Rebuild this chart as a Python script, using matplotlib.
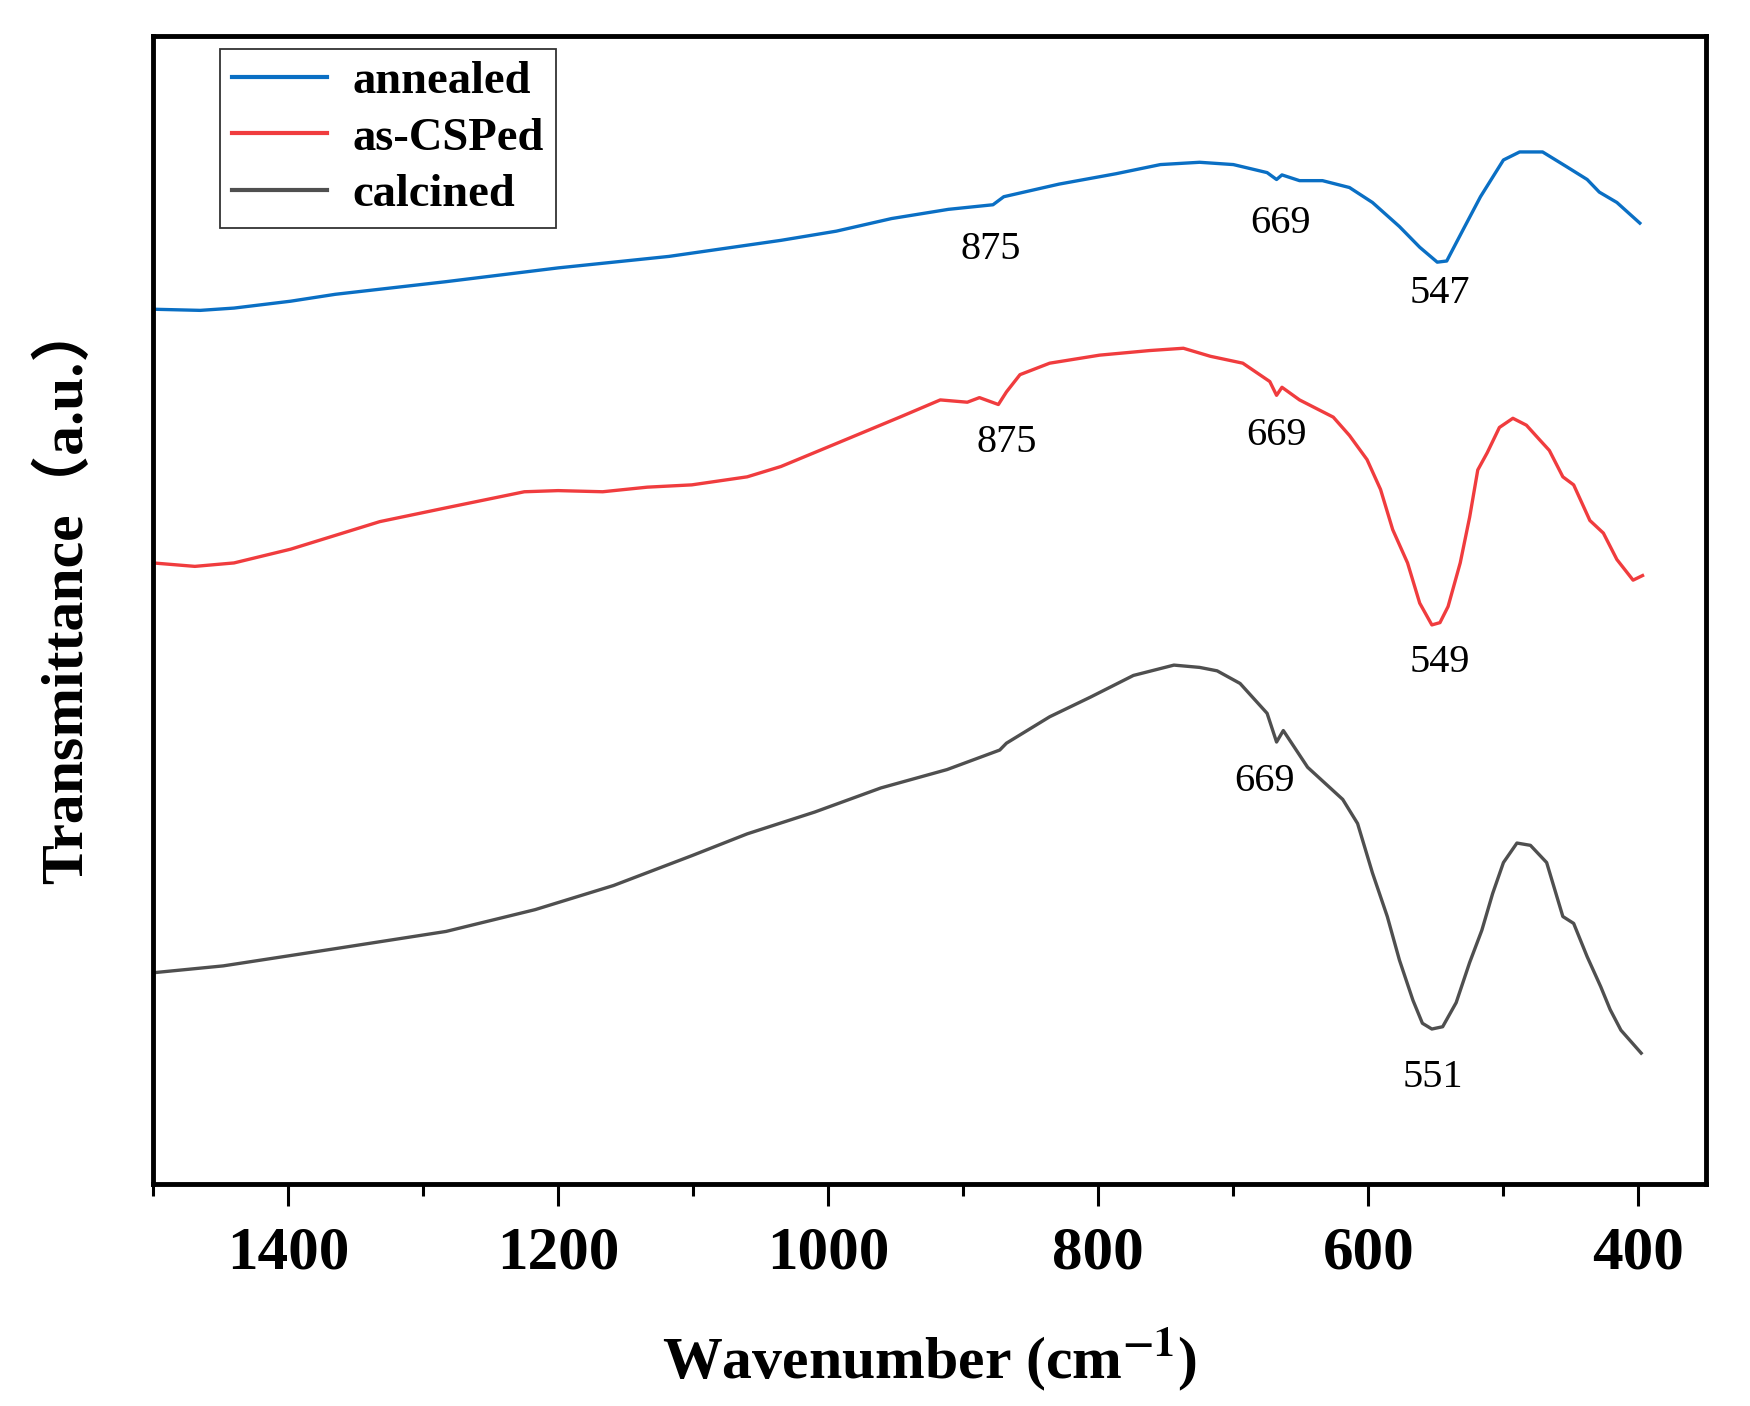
import matplotlib
matplotlib.use("Agg")
import matplotlib.pyplot as plt
from matplotlib.ticker import MultipleLocator

plt.rcParams['font.family'] = ['Liberation Serif', 'Noto Sans CJK SC']
plt.rcParams['mathtext.fontset'] = 'stix'

# FTIR spectra (wavenumber cm-1, transmittance a.u.)
annealed_wn = [1500, 1465, 1440, 1398, 1365, 1283, 1200, 1118, 1035, 994,
               953, 911, 878, 870, 829, 787, 754, 725, 700, 675,
               668, 664, 651, 634, 614, 597, 577, 562, 549, 542,
               530, 517, 500, 488, 471, 453, 438, 429, 416, 399]
annealed_t = [76.2, 76.1, 76.3, 76.9, 77.5, 78.6, 79.8, 80.8, 82.2, 83.0,
              84.1, 84.9, 85.3, 86.0, 87.1, 88.0, 88.8, 89.0, 88.8, 88.1,
              87.5, 87.9, 87.4, 87.4, 86.8, 85.5, 83.4, 81.6, 80.3, 80.4,
              83.1, 86.0, 89.2, 89.9, 89.9, 88.6, 87.5, 86.4, 85.5, 83.7]

csped_wn = [1500, 1469, 1440, 1398, 1365, 1332, 1283, 1225, 1200, 1167,
            1134, 1101, 1060, 1035, 994, 947, 917, 897, 888, 874,
            868, 858, 836, 799, 762, 737, 717, 693, 673, 668,
            664, 651, 626, 614, 601, 591, 582, 571, 562, 553,
            547, 541, 532, 525, 519, 512, 503, 493, 483, 473,
            466, 456, 448, 436, 426, 416, 404, 397]
csped_t = [54.1, 53.8, 54.1, 55.3, 56.5, 57.7, 58.9, 60.3, 60.4, 60.3,
           60.7, 60.9, 61.6, 62.5, 64.5, 66.8, 68.3, 68.1, 68.5, 67.9,
           69.0, 70.5, 71.5, 72.2, 72.6, 72.8, 72.1, 71.5, 69.9, 68.7,
           69.4, 68.3, 66.8, 65.2, 63.1, 60.5, 57.0, 54.1, 50.6, 48.7,
           48.9, 50.3, 54.1, 58.1, 62.2, 63.7, 65.9, 66.7, 66.1, 64.8,
           63.9, 61.6, 60.9, 57.8, 56.7, 54.4, 52.6, 53.0]

calcined_wn = [1500, 1448, 1365, 1283, 1217, 1159, 1101, 1060, 1010, 961,
               912, 873, 868, 836, 806, 774, 744, 725, 712, 695,
               675, 668, 663, 645, 619, 608, 597, 586, 577, 567,
               560, 553, 545, 535, 525, 516, 508, 500, 490, 480,
               468, 456, 448, 438, 428, 421, 413, 398]
calcined_t = [18.4, 19.0, 20.5, 22.0, 23.9, 26.0, 28.6, 30.5, 32.4, 34.5,
              36.1, 37.8, 38.4, 40.7, 42.4, 44.3, 45.2, 45.0, 44.7, 43.6,
              41.0, 38.5, 39.5, 36.3, 33.5, 31.4, 27.1, 23.3, 19.5, 16.0,
              14.0, 13.5, 13.7, 15.8, 19.3, 22.1, 25.3, 28.0, 29.7, 29.5,
              28.0, 23.3, 22.7, 19.8, 17.2, 15.2, 13.4, 11.4]

# peak labels: text, x, y
peak_labels = ['875', '669', '547', '875', '669', '549', '669', '551']
peak_x = [880, 665, 547, 868, 668, 547, 677, 552]
peak_y = [81.4, 83.7, 77.6, 64.6, 65.2, 45.4, 35.1, 9.3]

fig = plt.figure(figsize=(17.5, 14.06), dpi=100)
ax = fig.add_axes([153/1750, 1 - 1184/1406, (1706 - 153)/1750, (1184 - 36)/1406])

ax.plot(annealed_wn, annealed_t, color='#0a6fc4', lw=2.4, label='annealed')
ax.plot(csped_wn, csped_t, color='#f03c3e', lw=2.4, label='as-CSPed')
ax.plot(calcined_wn, calcined_t, color='#4f4f4f', lw=2.4, label='calcined')

for lab, x, y in zip(peak_labels, peak_x, peak_y):
    ax.text(x, y, lab, fontsize=29, ha='center', va='center')

ax.set_xlim(1500, 350)
ax.set_ylim(0, 100)
ax.xaxis.set_major_locator(MultipleLocator(200))
ax.xaxis.set_minor_locator(MultipleLocator(100))
ax.set_yticks([])
ax.tick_params(axis='x', which='major', direction='out', length=16, width=2.2,
               pad=14, labelsize=44)
ax.tick_params(axis='x', which='minor', direction='out', length=8.5, width=2.2)
for lbl in ax.get_xticklabels():
    lbl.set_fontweight('bold')
for sp in ax.spines.values():
    sp.set_linewidth(3.5)

ax.set_xlabel(r'Wavenumber (cm$^{\mathbf{-1}}$)', fontsize=43, fontweight='bold', labelpad=32)
ax.set_ylabel('Transmittance（a.u.）', fontsize=43, fontweight='bold', labelpad=42)
ax.yaxis.label.set_y(0.515)

leg = ax.legend(loc='upper left', bbox_to_anchor=(0.0431, 0.9887), borderaxespad=0,
                frameon=True, fancybox=False, edgecolor='black',
                prop={'weight': 'bold', 'size': 33.5},
                handlelength=2.06, handletextpad=0.54, labelspacing=0.3, borderpad=0.25)
leg.get_frame().set_linewidth(1.3)
for line in leg.get_lines():
    line.set_linewidth(3)

fig.savefig('out.png', dpi=100)
